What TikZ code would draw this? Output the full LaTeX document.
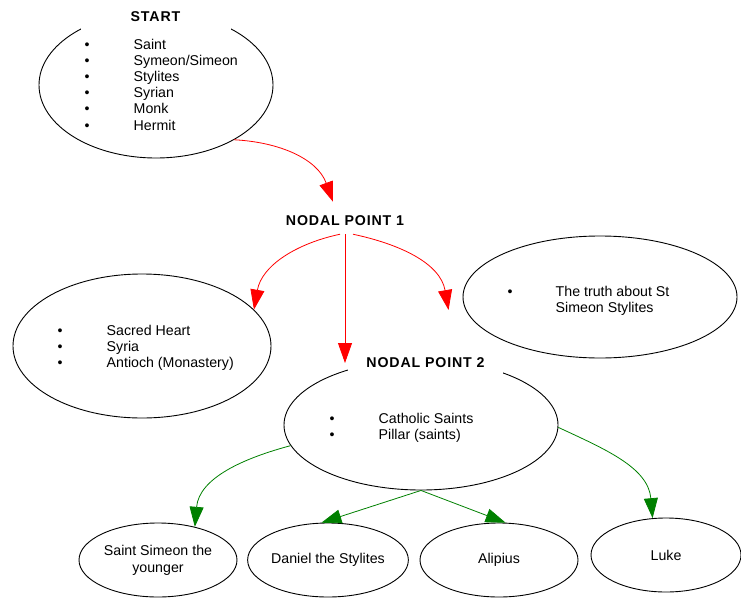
\documentclass[tikz,border=0pt]{standalone}
\usepackage{fontspec}
\setmainfont{Liberation Sans}
\newfontfamily\headfont[LetterSpace=6]{Liberation Sans}
\usetikzlibrary{shapes.geometric,arrows.meta}
\definecolor{linkgreen}{RGB}{0,128,0}
\newcommand{\bodysize}{\fontsize{14.2}{16.2}\selectfont}

\begin{document}
\begin{tikzpicture}
  [x=1pt,y=-1pt,every node/.style={font=\bodysize},
   topic/.style={draw,ellipse,line width=0.9pt,inner sep=0pt},
   leaf/.style={topic,minimum width=158pt,minimum height=74pt,align=center,
                font=\fontsize{14.2}{17}\selectfont},
   list/.style={anchor=base west,inner sep=0pt},
   heading/.style={fill=white,inner ysep=8pt,
                   font=\headfont\bfseries\fontsize{14.2}{16}\selectfont},
   redlink/.style={-{Triangle[length=20pt,width=14pt]},color=red,line width=0.8pt},
   greenlink/.style={redlink,color=linkgreen}]

  \useasboundingbox (0,0) rectangle (741,597);

  % the big ellipses
  \node[topic,minimum width=234pt,minimum height=146pt] (start)  at (156,85)  {};
  \node[topic,minimum width=258pt,minimum height=144pt] (sacred) at (142,346) {};
  \node[topic,minimum width=274pt,minimum height=122pt] (truth)  at (600,297) {};
  \node[topic,minimum width=274pt,minimum height=130pt] (saints) at (421,425) {};

  % bottom row
  \node[leaf] (simeon)  at (158,560) {Saint Simeon the\\younger};
  \node[leaf] (daniel)  at (328,560) {Daniel the Stylites};
  \node[leaf] (alipius) at (499,560) {Alipius};
  \node[leaf,minimum width=150pt] (luke) at (666,555) {Luke};

  % headings
  \node[heading,minimum width=150pt] (starthead) at (155.5,17) {START};
  \node[heading] (np1) at (345,221) {NODAL POINT 1};
  \node[heading,minimum width=155pt,inner ysep=7pt] (np2) at (425.5,363) {NODAL POINT 2};

  % bullet lists
  \node[list] (startlist) at (84.5,49) {\begin{tabular}[t]{@{}p{49pt}@{}l@{}}
    \textbullet & Saint\\
    \textbullet & Symeon/Simeon\\
    \textbullet & Stylites\\
    \textbullet & Syrian\\
    \textbullet & Monk\\
    \textbullet & Hermit
  \end{tabular}};
  \node[list] (sacredlist) at (57.5,335.5) {\begin{tabular}[t]{@{}p{49pt}@{}l@{}}
    \textbullet & Sacred Heart\\
    \textbullet & Syria\\
    \textbullet & Antioch (Monastery)
  \end{tabular}};
  \node[list] (truthlist) at (507.5,296) {\begin{tabular}[t]{@{}p{48pt}@{}l@{}}
    \textbullet & The truth about St\\
                & Simeon Stylites
  \end{tabular}};
  \node[list] (saintslist) at (329.5,423) {\begin{tabular}[t]{@{}p{49pt}@{}l@{}}
    \textbullet & Catholic Saints\\
    \textbullet & Pillar (saints)
  \end{tabular}};

  % links
  \path
    (start.-35) edge[redlink,out=-3,in=110] ([xshift=-12pt,yshift=6pt]np1.north)
    ([xshift=-5pt]np1.south) edge[redlink,out=192,in=80] (sacred.18)
    (np1.south) edge[redlink] (np1.south |- np2.west)
    ([xshift=8pt]np1.south) edge[redlink,out=-12,in=100] ([xshift=-14pt,yshift=-13pt]truth.west);

  \path
    (saints.189) edge[greenlink,out=195,in=85] (simeon.42)
    (saints.south) edge[greenlink] (daniel.100)
    (saints.south) edge[greenlink] (alipius.80)
    (saints.-1) edge[greenlink,out=-25,in=95] (luke.110);
\end{tikzpicture}
\end{document}
